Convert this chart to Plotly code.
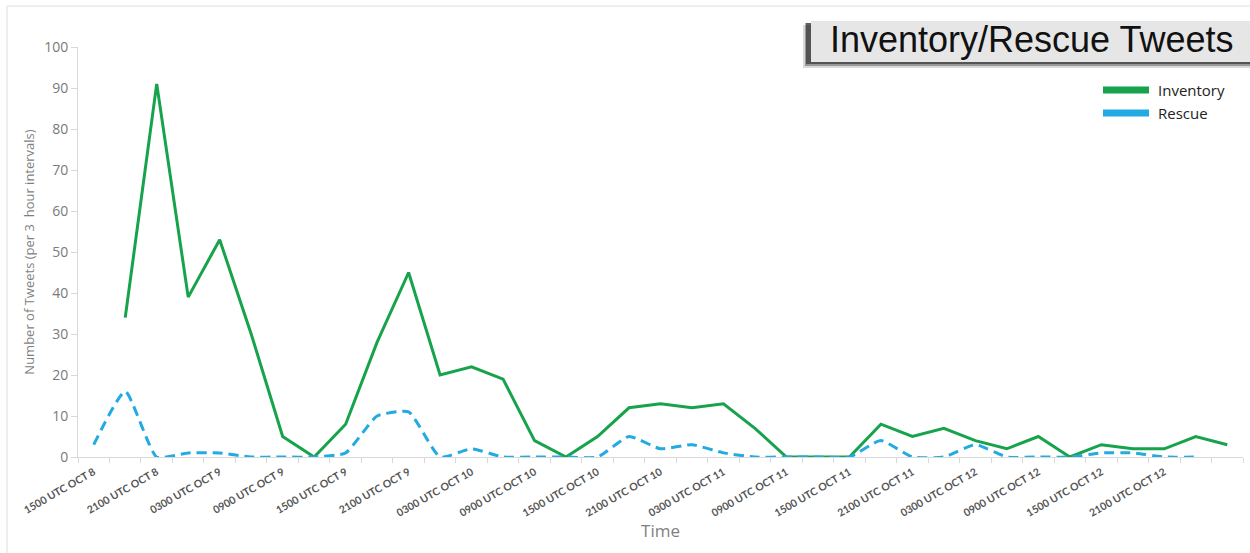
import plotly.graph_objects as go

# ---- data ----
categories = [
    "1500 UTC OCT 8", "1800 UTC OCT 8", "2100 UTC OCT 8", "0000 UTC OCT 9",
    "0300 UTC OCT 9", "0600 UTC OCT 9", "0900 UTC OCT 9", "1200 UTC OCT 9",
    "1500 UTC OCT 9", "1800 UTC OCT 9", "2100 UTC OCT 9", "0000 UTC OCT 10",
    "0300 UTC OCT 10", "0600 UTC OCT 10", "0900 UTC OCT 10", "1200 UTC OCT 10",
    "1500 UTC OCT 10", "1800 UTC OCT 10", "2100 UTC OCT 10", "0000 UTC OCT 11",
    "0300 UTC OCT 11", "0600 UTC OCT 11", "0900 UTC OCT 11", "1200 UTC OCT 11",
    "1500 UTC OCT 11", "1800 UTC OCT 11", "2100 UTC OCT 11", "0000 UTC OCT 12",
    "0300 UTC OCT 12", "0600 UTC OCT 12", "0900 UTC OCT 12", "1200 UTC OCT 12",
    "1500 UTC OCT 12", "1800 UTC OCT 12", "2100 UTC OCT 12", "0000 UTC OCT 13",
    "0300 UTC OCT 13",
]
inventory = [None, 34, 91, 39, 53, 30, 5, 0, 8, 28, 45, 20, 22, 19, 4, 0, 5, 12,
             13, 12, 13, 7, 0, 0, 0, 8, 5, 7, 4, 2, 5, 0, 3, 2, 2, 5, 3]
rescue = [3, 16, 0, 1, 1, 0, 0, 0, 1, 10, 11, 0, 2, 0, 0, 0, 0, 5,
          2, 3, 1, 0, 0, 0, 0, 4, 0, 0, 3, 0, 0, 0, 1, 1, 0, 0, None]
# every other category is labelled
tick_labels = [c if i % 2 == 0 and i <= 34 else "" for i, c in enumerate(categories)]
y_ticks = list(range(0, 101, 10))

GREEN = "#16a34b"
BLUE = "#22aae2"
W, H = 1250, 553
L, R, T, B = 78, 7, 47, 96
PW, PH = W - L - R, H - T - B


def px(x):
    return (x - L) / PW


def py(y):
    return (H - B - y) / PH


fig = go.Figure()
fig.add_trace(go.Scatter(x=categories, y=inventory, mode="lines", name="Inventory",
                         line=dict(color=GREEN, width=3), showlegend=False))
fig.add_trace(go.Scatter(x=categories, y=rescue, mode="lines", name="Rescue",
                         line=dict(color=BLUE, width=3, dash="10px,6px",
                                   shape="spline", smoothing=0.5),
                         showlegend=False))

shapes = []
# faint frame
shapes.append(dict(type="line", xref="paper", yref="paper", x0=px(7), x1=px(7),
                   y0=py(6), y1=py(560), line=dict(color="#dedede", width=1)))
shapes.append(dict(type="line", xref="paper", yref="paper", x0=px(7), x1=px(1260),
                   y0=py(6), y1=py(6), line=dict(color="#dedede", width=1)))
# title box with shadow
shapes.append(dict(type="rect", xref="paper", yref="paper", x0=px(803), x1=px(1260),
                   y0=py(25), y1=py(68), fillcolor="rgba(0,0,0,0.15)", line=dict(width=0)))
shapes.append(dict(type="rect", xref="paper", yref="paper", x0=px(805), x1=px(1260),
                   y0=py(23), y1=py(66), fillcolor="rgba(0,0,0,0.3)", line=dict(width=0)))
shapes.append(dict(type="rect", xref="paper", yref="paper", x0=px(806), x1=px(1260),
                   y0=py(23), y1=py(64), fillcolor="rgba(0,0,0,0.45)", line=dict(width=0)))
shapes.append(dict(type="rect", xref="paper", yref="paper", x0=px(811), x1=px(1260),
                   y0=py(21), y1=py(62), fillcolor="#e6e6e6", line=dict(width=0)))
# legend swatches
shapes.append(dict(type="rect", xref="paper", yref="paper", x0=px(1103), x1=px(1149),
                   y0=py(86.5), y1=py(93.5), fillcolor=GREEN, line=dict(width=0)))
shapes.append(dict(type="rect", xref="paper", yref="paper", x0=px(1103), x1=px(1149),
                   y0=py(109.5), y1=py(116.5), fillcolor=BLUE, line=dict(width=0)))

annotations = [
    dict(text="Inventory/Rescue Tweets", xref="paper", yref="paper", x=px(1032), y=py(40),
         xanchor="center", yanchor="middle", showarrow=False,
         font=dict(family="Liberation Sans, Arial", size=36, color="#111111")),
    dict(text="Inventory", xref="paper", yref="paper", x=px(1156), y=py(90),
         xanchor="left", yanchor="middle", showarrow=False,
         font=dict(family="Open Sans", size=15, color="#222222")),
    dict(text="Rescue", xref="paper", yref="paper", x=px(1156), y=py(113),
         xanchor="left", yanchor="middle", showarrow=False,
         font=dict(family="Open Sans", size=15, color="#222222")),
]

fig.update_layout(
    width=W, height=H,
    margin=dict(l=L, r=R, t=T, b=B, pad=0),
    paper_bgcolor="white", plot_bgcolor="white",
    showlegend=False,
    shapes=shapes, annotations=annotations,
    xaxis=dict(
        type="category", range=[-0.5, len(categories) - 0.5],
        tickmode="array", tickvals=categories, ticktext=tick_labels,
        tickson="boundaries", ticks="outside", ticklen=5, tickcolor="#d9d9d9",
        showline=True, linecolor="#d9d9d9", linewidth=1, showgrid=False,
        tickangle=-30, ticklabelstandoff=4,
        tickfont=dict(family="Lato", size=10.5, color="#555555", weight="bold"),
        title=dict(text="Time", font=dict(family="Open Sans", size=17, color="#7f7f7f"),
                   standoff=6),
        zeroline=False,
    ),
    yaxis=dict(
        range=[0, 100], tickmode="array", tickvals=y_ticks,
        ticks="outside", ticklen=6, tickcolor="#d9d9d9",
        showline=True, linecolor="#d9d9d9", linewidth=1, showgrid=False, zeroline=False,
        tickfont=dict(family="Open Sans", size=14, color="#7a7a7a"),
        title=dict(text="Number of Tweets (per 3\u00a0 hour intervals)",
                   font=dict(family="Open Sans", size=13, color="#7f7f7f"), standoff=6),
    ),
)

fig.write_html("out.html")
